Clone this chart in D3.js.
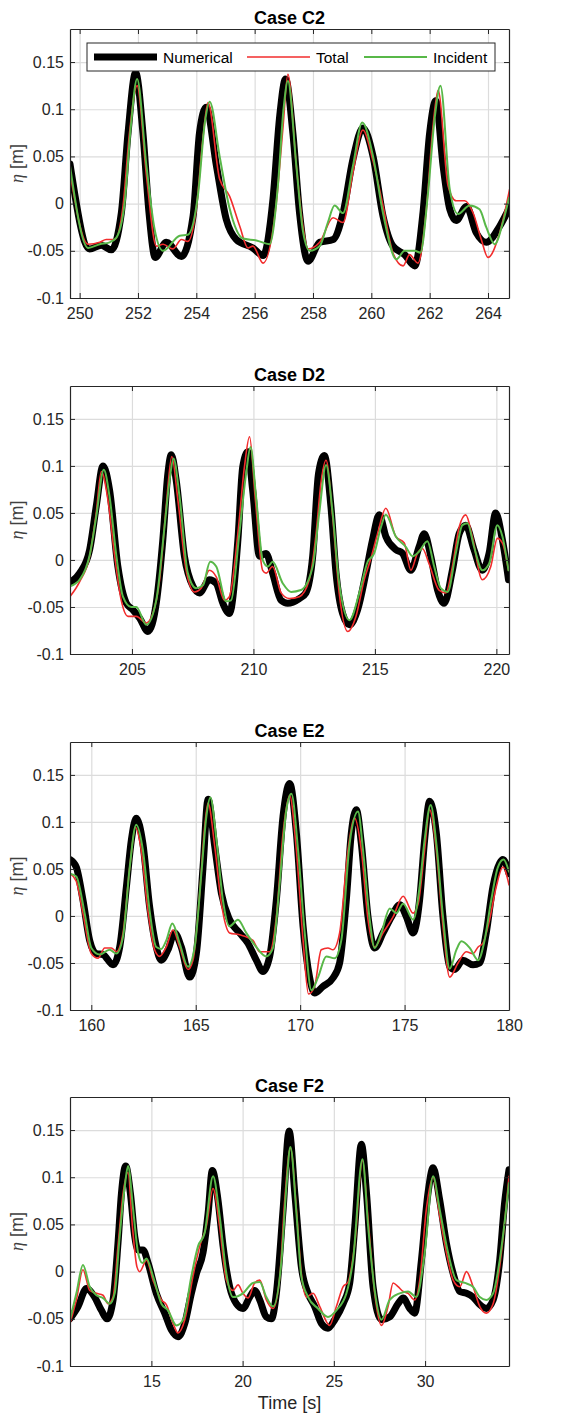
<!DOCTYPE html>
<html>
<head>
<meta charset="utf-8">
<script src="https://cdn.jsdelivr.net/npm/d3@7"></script>
<style>
  body { margin: 0; background: #fff; }
  svg { display: block; font-family: "Liberation Sans", Arial, sans-serif; }
</style>
</head>
<body>
<svg id="chart" width="573" height="1416"></svg>
<script>
// ---- data: [time (s), eta (m)] ----
var c2Num = [[249.67,0.042],[250.34,-0.048],[250.74,-0.044],[251.09,-0.049],[251.43,-0.01],[251.66,0.075],[251.92,0.139],[252.17,0.075],[252.38,-0.01],[252.59,-0.057],[252.97,-0.041],[253.49,-0.056],[253.89,-0.013],[254.11,0.075],[254.34,0.102],[254.69,0.04],[255.03,-0.017],[255.37,-0.038],[255.94,-0.047],[256.29,-0.055],[256.63,0.005],[256.86,0.093],[257.06,0.132],[257.31,0.075],[257.54,-0.01],[257.83,-0.061],[258.23,-0.041],[258.69,-0.038],[259.03,-0.01],[259.37,0.047],[259.71,0.08],[260.06,0.05],[260.40,-0.013],[260.74,-0.045],[261.14,-0.054],[261.49,-0.066],[261.77,-0.01],[262.00,0.075],[262.21,0.109],[262.46,0.04],[262.69,-0.006],[262.91,-0.018],[263.26,-0.003],[263.60,-0.031],[263.94,-0.041],[264.40,-0.024],[264.74,-0.004]];
var c2Tot = [[249.67,0.033],[250.29,-0.043],[250.69,-0.041],[250.91,-0.038],[251.2,-0.038],[251.49,-0.002],[251.71,0.075],[251.97,0.125],[252.29,0.03],[252.63,-0.045],[252.86,-0.043],[253.2,-0.048],[253.49,-0.038],[253.71,-0.04],[254.0,-0.005],[254.23,0.07],[254.4,0.107],[254.8,0.026],[255.14,0.008],[255.49,-0.024],[255.77,-0.047],[255.94,-0.045],[256.29,-0.063],[256.74,0],[256.97,0.08],[257.14,0.137],[257.43,0.04],[257.66,-0.025],[257.83,-0.048],[258.23,-0.041],[258.69,-0.015],[259.03,-0.02],[259.37,0.033],[259.71,0.078],[260.06,0.045],[260.4,-0.002],[260.74,-0.052],[261.09,-0.066],[261.31,-0.054],[261.6,-0.063],[261.89,-0.005],[262.11,0.08],[262.29,0.12],[262.63,0.019],[262.91,0.003],[263.2,0.003],[263.49,-0.01],[263.77,-0.038],[264.0,-0.057],[264.4,-0.031],[264.74,0.015]];
var c2Inc = [[249.67,0.04],[250.29,-0.047],[250.69,-0.043],[251.03,-0.041],[251.26,-0.036],[251.54,0.0],[251.75,0.08],[251.97,0.132],[252.29,0.04],[252.57,-0.027],[252.86,-0.05],[253.43,-0.034],[253.71,-0.033],[254.06,0.01],[254.29,0.085],[254.46,0.108],[254.8,0.05],[255.14,-0.005],[255.6,-0.037],[256.06,-0.039],[256.51,-0.043],[256.8,0.02],[256.99,0.1],[257.14,0.13],[257.43,0.04],[257.66,-0.03],[257.89,-0.05],[258.23,-0.045],[258.51,-0.02],[258.74,-0.002],[259.03,-0.01],[259.37,0.04],[259.69,0.086],[260.06,0.05],[260.4,-0.01],[260.86,-0.059],[261.14,-0.05],[261.49,-0.05],[261.68,-0.052],[261.94,0.01],[262.17,0.09],[262.37,0.125],[262.69,0.015],[262.97,-0.011],[263.37,-0.002],[263.71,-0.006],[263.94,-0.025],[264.23,-0.043],[264.51,-0.02],[264.72,0.006]];

var d2Num = [[202.45,-0.024],[202.85,-0.014],[203.26,0.011],[203.53,0.057],[203.81,0.1],[204.08,0.074],[204.42,-0.007],[204.77,-0.046],[205.04,-0.053],[205.32,-0.062],[205.66,-0.076],[206.0,-0.046],[206.27,0.021],[206.48,0.092],[206.62,0.112],[206.82,0.085],[207.16,0.004],[207.51,-0.028],[207.78,-0.035],[208.19,-0.021],[208.47,-0.025],[208.74,-0.046],[209.01,-0.057],[209.36,0.021],[209.56,0.099],[209.77,0.115],[209.97,0.074],[210.25,0.004],[210.52,0.007],[210.79,-0.014],[211.14,-0.043],[211.41,-0.046],[211.89,-0.041],[212.16,-0.035],[212.44,0.004],[212.68,0.092],[212.92,0.111],[213.19,0.057],[213.4,-0.014],[213.67,-0.057],[213.95,-0.069],[214.29,-0.053],[214.63,-0.014],[214.9,0.021],[215.18,0.048],[215.45,0.025],[215.86,0.011],[216.14,0.007],[216.48,-0.011],[216.82,0.014],[217.03,0.028],[217.3,0.004],[217.58,-0.032],[217.85,-0.046],[218.19,-0.011],[218.47,0.028],[218.74,0.037],[219.08,0.011],[219.42,-0.011],[219.7,0.007],[219.97,0.05],[220.25,0.021],[220.5,-0.021]];
var d2Tot = [[202.45,-0.039],[202.85,-0.023],[203.26,0.004],[203.53,0.05],[203.74,0.094],[204.01,0.064],[204.29,0.004],[204.56,-0.043],[204.84,-0.06],[205.18,-0.06],[205.59,-0.067],[205.86,-0.057],[206.14,-0.021],[206.41,0.057],[206.64,0.11],[206.89,0.064],[207.23,-0.011],[207.58,-0.034],[207.85,-0.03],[208.19,-0.011],[208.47,-0.018],[208.81,-0.043],[209.01,-0.039],[209.36,0.028],[209.63,0.099],[209.84,0.131],[210.08,0.064],[210.38,-0.011],[210.52,-0.014],[210.79,-0.007],[211.14,-0.035],[211.48,-0.041],[211.89,-0.039],[212.3,-0.021],[212.58,0.028],[212.78,0.082],[212.99,0.106],[213.26,0.046],[213.53,-0.035],[213.88,-0.076],[214.22,-0.06],[214.56,-0.021],[214.84,0.002],[215.11,0.028],[215.45,0.055],[215.86,0.025],[216.21,0.018],[216.48,-0.011],[216.75,0.007],[216.96,0.012],[217.23,-0.004],[217.64,-0.032],[217.92,-0.035],[218.19,-0.007],[218.47,0.035],[218.74,0.048],[219.01,0.025],[219.42,-0.021],[219.77,-0.007],[220.04,0.023],[220.25,0.018],[220.5,-0.011]];
var d2Inc = [[202.45,-0.028],[202.85,-0.021],[203.26,0.005],[203.53,0.046],[203.84,0.096],[204.08,0.067],[204.36,0.004],[204.63,-0.039],[204.97,-0.05],[205.18,-0.05],[205.59,-0.069],[206.0,-0.043],[206.34,0.035],[206.55,0.085],[206.71,0.108],[206.96,0.067],[207.3,-0.014],[207.64,-0.03],[207.92,-0.027],[208.22,-0.002],[208.47,-0.007],[208.88,-0.044],[209.08,-0.043],[209.42,0.028],[209.7,0.092],[209.88,0.12],[210.11,0.067],[210.38,0],[210.59,-0.007],[210.79,-0.002],[211.21,-0.025],[211.55,-0.034],[211.96,-0.032],[212.44,-0.007],[212.71,0.05],[212.99,0.101],[213.26,0.05],[213.53,-0.025],[213.95,-0.064],[214.36,-0.035],[214.7,-0.002],[214.97,0.007],[215.25,0.035],[215.45,0.048],[215.86,0.025],[216.27,0.014],[216.55,0.004],[216.82,0.009],[217.16,0.02],[217.44,-0.007],[217.71,-0.03],[217.99,-0.034],[218.33,0.007],[218.6,0.037],[218.81,0.039],[219.08,0.014],[219.42,-0.011],[219.7,-0.004],[220.04,0.037],[220.25,0.025],[220.5,-0.011]];

var e2Num = [[158.98,0.06],[159.28,0.052],[159.6,0.017],[159.92,-0.026],[160.24,-0.04],[160.56,-0.041],[161.04,-0.052],[161.36,-0.033],[161.68,0.031],[161.92,0.081],[162.15,0.104],[162.47,0.077],[162.79,0.01],[163.11,-0.033],[163.35,-0.047],[163.67,-0.036],[163.99,-0.018],[164.31,-0.033],[164.71,-0.065],[165.03,-0.04],[165.35,0.052],[165.59,0.124],[165.91,0.074],[166.23,0.024],[166.62,-0.004],[167.1,-0.018],[167.5,-0.029],[167.9,-0.047],[168.22,-0.059],[168.54,-0.043],[168.86,0.017],[169.18,0.106],[169.5,0.141],[169.82,0.088],[170.14,-0.011],[170.45,-0.065],[170.69,-0.082],[171.09,-0.075],[171.57,-0.066],[171.89,-0.05],[172.21,0.017],[172.45,0.088],[172.69,0.113],[172.93,0.077],[173.25,-0.001],[173.57,-0.034],[173.97,-0.018],[174.37,-0.001],[174.77,0.012],[175.09,-0.001],[175.41,-0.018],[175.72,0.017],[175.96,0.081],[176.2,0.122],[176.52,0.088],[176.84,-0.001],[177.16,-0.054],[177.4,-0.057],[177.79,-0.047],[178.28,-0.052],[178.59,-0.05],[178.91,-0.018],[179.23,0.031],[179.55,0.056],[179.71,0.06],[180.0,0.045]];
var e2Tot = [[158.98,0.045],[159.28,0.037],[159.6,0.003],[160.0,-0.04],[160.32,-0.045],[160.64,-0.034],[160.96,-0.034],[161.2,-0.038],[161.52,-0.018],[161.84,0.052],[162.12,0.094],[162.39,0.07],[162.71,0.006],[163.03,-0.036],[163.27,-0.043],[163.59,-0.033],[163.91,-0.015],[164.23,-0.033],[164.63,-0.057],[164.87,-0.047],[165.19,0.024],[165.43,0.095],[165.59,0.12],[165.91,0.074],[166.23,0.013],[166.62,-0.018],[167.1,-0.02],[167.74,-0.026],[168.06,-0.038],[168.54,-0.038],[168.86,-0.001],[169.18,0.088],[169.5,0.128],[169.82,0.07],[170.14,-0.026],[170.4,-0.083],[170.69,-0.075],[171.01,-0.036],[171.33,-0.034],[171.57,-0.036],[171.89,-0.018],[172.29,0.07],[172.61,0.104],[172.93,0.07],[173.25,-0.004],[173.57,-0.033],[173.97,-0.018],[174.45,-0.001],[174.93,0.021],[175.41,0.003],[175.65,0.013],[175.96,0.07],[176.2,0.113],[176.52,0.07],[176.84,-0.011],[177.16,-0.065],[177.56,-0.05],[177.95,-0.038],[178.28,-0.04],[178.52,-0.033],[178.75,-0.029],[179.07,-0.004],[179.39,0.031],[179.71,0.052],[180.0,0.033]];
var e2Inc = [[158.98,0.045],[159.28,0.042],[159.68,0.003],[160.0,-0.034],[160.4,-0.041],[160.88,-0.036],[161.2,-0.04],[161.52,-0.022],[161.84,0.052],[162.15,0.097],[162.47,0.07],[162.79,0.006],[163.11,-0.033],[163.35,-0.035],[163.59,-0.026],[163.88,-0.008],[164.23,-0.029],[164.63,-0.054],[164.95,-0.033],[165.27,0.045],[165.51,0.106],[165.7,0.126],[165.99,0.081],[166.3,0.017],[166.62,-0.011],[167.02,-0.004],[167.42,-0.018],[167.9,-0.033],[168.38,-0.043],[168.7,-0.034],[169.02,0.035],[169.34,0.113],[169.58,0.13],[169.9,0.07],[170.22,-0.018],[170.54,-0.079],[170.86,-0.065],[171.25,-0.043],[171.65,-0.045],[171.97,-0.026],[172.37,0.077],[172.77,0.111],[173.01,0.07],[173.33,-0.004],[173.57,-0.034],[173.89,-0.018],[174.29,0.008],[174.61,0.003],[174.93,0.013],[175.41,-0.004],[175.72,0.031],[175.96,0.081],[176.25,0.118],[176.52,0.077],[176.84,-0.001],[177.16,-0.056],[177.48,-0.036],[177.72,-0.027],[178.12,-0.034],[178.52,-0.047],[178.83,-0.026],[179.15,0.017],[179.47,0.052],[179.74,0.06],[180.0,0.047]];

var f2Num = [[10.54,-0.05],[10.98,-0.037],[11.44,-0.018],[11.89,-0.027],[12.26,-0.041],[12.57,-0.05],[12.9,-0.03],[13.17,0.03],[13.36,0.083],[13.59,0.112],[13.85,0.083],[14.09,0.037],[14.27,0.023],[14.54,0.023],[14.82,0.009],[15.27,-0.023],[15.73,-0.044],[16.1,-0.062],[16.46,-0.069],[16.83,-0.055],[17.19,-0.023],[17.47,-0.002],[17.83,0.02],[18.11,0.062],[18.34,0.107],[18.65,0.076],[18.93,0.027],[19.29,-0.016],[19.66,-0.034],[20.02,-0.039],[20.39,-0.027],[20.66,-0.02],[20.94,-0.03],[21.3,-0.048],[21.58,-0.05],[21.85,-0.023],[22.22,0.066],[22.55,0.149],[22.86,0.083],[23.22,0.005],[23.59,-0.023],[23.95,-0.037],[24.32,-0.055],[24.68,-0.06],[25.05,-0.051],[25.51,-0.034],[25.87,-0.012],[26.15,0.048],[26.51,0.135],[26.79,0.083],[27.15,-0.016],[27.61,-0.051],[28.06,-0.048],[28.52,-0.034],[28.8,-0.028],[29.16,-0.039],[29.43,-0.044],[29.8,0.012],[30.16,0.083],[30.44,0.11],[30.8,0.076],[31.17,0.03],[31.54,-0.002],[31.9,-0.021],[32.27,-0.023],[32.63,-0.027],[33.0,-0.035],[33.36,-0.039],[33.73,-0.03],[34.09,0.012],[34.36,0.073],[34.6,0.108]];
var f2Tot = [[10.54,-0.055],[10.89,-0.03],[11.25,0.002],[11.62,-0.02],[11.99,-0.023],[12.35,-0.025],[12.62,-0.034],[12.9,-0.027],[13.17,0.027],[13.45,0.083],[13.72,0.105],[13.96,0.048],[14.21,0.005],[14.36,0],[14.73,0.012],[15.09,-0.009],[15.55,-0.03],[15.82,-0.035],[16.19,-0.055],[16.46,-0.065],[16.83,-0.051],[17.28,-0.005],[17.65,0.027],[18.01,0.048],[18.38,0.088],[18.74,0.048],[19.11,-0.009],[19.48,-0.02],[19.75,-0.014],[20.02,-0.023],[20.3,-0.028],[20.66,-0.012],[20.94,-0.009],[21.3,-0.03],[21.67,-0.039],[22.04,-0.005],[22.31,0.076],[22.62,0.131],[22.95,0.066],[23.22,-0.002],[23.5,-0.027],[23.86,-0.023],[24.23,-0.037],[24.77,-0.057],[25.14,-0.037],[25.51,-0.016],[25.78,-0.011],[26.15,0.03],[26.57,0.118],[26.88,0.055],[27.24,-0.023],[27.61,-0.057],[27.97,-0.037],[28.25,-0.012],[28.52,-0.016],[28.8,-0.021],[29.07,-0.023],[29.43,-0.03],[29.71,-0.009],[30.07,0.066],[30.44,0.1],[30.8,0.059],[31.17,0.02],[31.54,-0.009],[31.9,-0.016],[32.27,0],[32.63,-0.016],[33.0,-0.037],[33.36,-0.044],[33.73,-0.034],[34.09,0.005],[34.6,0.101]];
var f2Inc = [[10.54,-0.051],[10.89,-0.023],[11.25,0.007],[11.62,-0.016],[11.99,-0.025],[12.35,-0.028],[12.72,-0.034],[12.99,-0.023],[13.26,0.037],[13.54,0.09],[13.72,0.112],[14.0,0.066],[14.27,0.02],[14.51,0.009],[14.73,0.014],[15.09,-0.005],[15.55,-0.034],[15.91,-0.041],[16.37,-0.057],[16.74,-0.051],[17.19,-0.005],[17.56,0.027],[17.92,0.041],[18.38,0.101],[18.74,0.059],[19.11,-0.002],[19.48,-0.027],[20.02,-0.023],[20.57,-0.012],[20.94,-0.011],[21.3,-0.027],[21.67,-0.037],[22.13,0.012],[22.4,0.09],[22.62,0.132],[22.95,0.062],[23.22,-0.005],[23.59,-0.027],[24.13,-0.039],[24.68,-0.048],[25.14,-0.041],[25.69,-0.023],[26.05,0.012],[26.57,0.119],[26.88,0.048],[27.24,-0.02],[27.61,-0.051],[28.06,-0.03],[28.61,-0.023],[29.07,-0.021],[29.52,-0.027],[29.98,0.02],[30.44,0.101],[30.8,0.066],[31.26,0.02],[31.72,-0.009],[32.18,-0.012],[32.63,-0.016],[33.0,-0.027],[33.36,-0.03],[33.73,-0.023],[34.09,0.012],[34.6,0.094]];

var yTicks = [-0.1, -0.05, 0, 0.05, 0.1, 0.15];
var c2Ticks = [250, 252, 254, 256, 258, 260, 262, 264];
var d2Ticks = [205, 210, 215, 220];
var e2Ticks = [160, 165, 170, 175, 180];
var f2Ticks = [15, 20, 25, 30];
var seriesNames = ["Numerical", "Total", "Incident"];

// ---- layout ----
var left = 70, right = 509;
var yDomain = [-0.1, 0.185];
var colors = ["#000000", "#f22c2c", "#58b848"];
var widths = [7, 1.6, 2];

var panels = [
  {title: "Case C2", top: 29,   bottom: 298,  xd: [249.67, 264.72], ticks: c2Ticks, data: [c2Num, c2Tot, c2Inc], legend: true},
  {title: "Case D2", top: 386,  bottom: 654,  xd: [202.45, 220.52], ticks: d2Ticks, data: [d2Num, d2Tot, d2Inc]},
  {title: "Case E2", top: 742,  bottom: 1010, xd: [158.98, 180.0],  ticks: e2Ticks, data: [e2Num, e2Tot, e2Inc]},
  {title: "Case F2", top: 1097, bottom: 1366, xd: [10.54, 34.6],    ticks: f2Ticks, data: [f2Num, f2Tot, f2Inc], xlabel: "Time [s]"}
];

var svg = d3.select("#chart");
svg.append("rect").attr("width", 573).attr("height", 1416).attr("fill", "#fff");

panels.forEach(function(p, k){
  var g = svg.append("g");
  var h = p.bottom - p.top, w = right - left;
  var x = d3.scaleLinear().domain(p.xd).range([left, right]);
  var y = d3.scaleLinear().domain(yDomain).range([p.bottom, p.top]);

  // grid
  g.append("g").attr("transform", "translate(0," + p.bottom + ")")
    .call(d3.axisBottom(x).tickValues(p.ticks).tickSize(-h).tickFormat(""))
    .call(function(s){ s.select(".domain").remove(); s.selectAll("line").attr("stroke", "#dcdcdc").attr("stroke-width", 1.2); });
  g.append("g").attr("transform", "translate(" + left + ",0)")
    .call(d3.axisLeft(y).tickValues(yTicks).tickSize(-w).tickFormat(""))
    .call(function(s){ s.select(".domain").remove(); s.selectAll("line").attr("stroke", "#dcdcdc").attr("stroke-width", 1.2); });

  // lines
  var clipId = "clip" + k;
  g.append("clipPath").attr("id", clipId).append("rect")
    .attr("x", left).attr("y", p.top).attr("width", w).attr("height", h);
  var line = d3.line().x(function(d){ return x(d[0]); }).y(function(d){ return y(d[1]); })
    .curve(d3.curveMonotoneX);
  p.data.forEach(function(s, i){
    g.append("path").attr("clip-path", "url(#" + clipId + ")")
      .attr("d", line(s)).attr("fill", "none")
      .attr("stroke", colors[i]).attr("stroke-width", widths[i])
      .attr("stroke-linejoin", "round").attr("stroke-linecap", "round");
  });

  // axes (ticks inside, MATLAB box)
  var ax = "#262626";
  function styleAxis(s){
    s.select(".domain").attr("stroke", ax).attr("stroke-width", 1.2);
    s.selectAll(".tick line").attr("stroke", ax).attr("stroke-width", 1);
    s.selectAll("text").attr("fill", ax).attr("font-size", 16)
      .attr("font-family", "'Liberation Sans', Arial, sans-serif");
  }
  g.append("g").attr("transform", "translate(0," + p.bottom + ")")
    .call(d3.axisBottom(x).tickValues(p.ticks).tickSize(-5).tickSizeOuter(0).tickPadding(10).tickFormat(function(v){ return String(v); }))
    .call(styleAxis);
  g.append("g").attr("transform", "translate(0," + p.top + ")")
    .call(d3.axisTop(x).tickValues(p.ticks).tickSize(-5).tickSizeOuter(0).tickFormat(""))
    .call(styleAxis);
  g.append("g").attr("transform", "translate(" + left + ",0)")
    .call(d3.axisLeft(y).tickValues(yTicks).tickSize(-5).tickSizeOuter(0).tickPadding(6).tickFormat(function(v){ return String(v); }))
    .call(styleAxis);
  g.append("g").attr("transform", "translate(" + right + ",0)")
    .call(d3.axisRight(y).tickValues(yTicks).tickSize(-5).tickSizeOuter(0).tickFormat(""))
    .call(styleAxis);

  // title
  g.append("text").attr("x", (left + right) / 2).attr("y", p.top - 5)
    .attr("text-anchor", "middle").attr("font-size", 18).attr("font-weight", "bold")
    .attr("fill", "#000").text(p.title);

  // y label
  var yl = g.append("text")
    .attr("transform", "translate(23," + ((p.top + p.bottom) / 2) + ") rotate(-90)")
    .attr("text-anchor", "middle").attr("font-size", 18).attr("fill", "#404040");
  yl.append("tspan").attr("font-family", "'Liberation Serif', serif").attr("font-style", "italic").text("η");
  yl.append("tspan").text(" [m]");

  if (p.xlabel) {
    g.append("text").attr("x", (left + right) / 2).attr("y", p.bottom + 43)
      .attr("text-anchor", "middle").attr("font-size", 18).attr("fill", ax).text(p.xlabel);
  }

  if (p.legend) {
    var lg = g.append("g");
    lg.append("rect").attr("x", 87).attr("y", 43).attr("width", 408).attr("height", 28)
      .attr("fill", "#fff").attr("stroke", ax).attr("stroke-width", 1);
    var lx = [94, 247, 364];
    seriesNames.forEach(function(name, i){
      lg.append("line").attr("x1", lx[i]).attr("x2", lx[i] + 63).attr("y1", 57).attr("y2", 57)
        .attr("stroke", colors[i]).attr("stroke-width", widths[i]);
      lg.append("text").attr("x", lx[i] + 69).attr("y", 62.5).attr("font-size", 15.5)
        .attr("fill", "#000").text(name);
    });
  }
});
</script>
</body>
</html>
